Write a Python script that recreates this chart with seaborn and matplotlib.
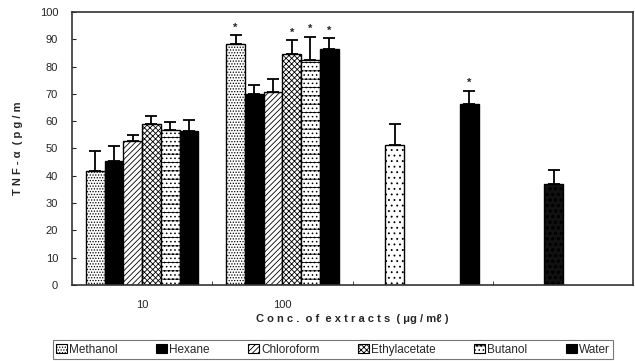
import matplotlib
matplotlib.use("Agg")
import matplotlib.pyplot as plt
from matplotlib.patches import Patch
import seaborn as sns
import pandas as pd
import numpy as np

# ---------------- data ----------------
solvents = ["Methanol", "Hexane", "Chloroform", "Ethylacetate", "Butanol", "Water"]
conc_labels = ["10", "100", "", " "]

vals_10 = [41.6, 45.5, 52.6, 59.1, 56.9, 56.5]
errs_10 = [7.4, 5.3, 2.5, 2.7, 2.7, 4.1]
star_10 = [False, False, False, False, False, False]

vals_100 = [88.4, 70.1, 70.7, 84.5, 82.4, 86.5]
errs_100 = [3.0, 3.0, 4.8, 5.1, 8.5, 3.8]
star_100 = [True, False, False, True, True, True]

# extra single bars (not in legend)
extra_conc = ["", "", " "]
extra_slot = ["Hexane", "Water", "Chloroform"]
extra_vals = [51.3, 66.2, 37.1]
extra_errs = [7.8, 5.0, 5.0]
extra_star = [False, True, False]
extra_style = ["lightdots", "black", "darkdots"]

# ---------------- table ----------------
rows = []
for s, v, e, st in zip(solvents, vals_10, errs_10, star_10):
    rows.append(dict(conc="10", solvent=s, value=v, err=e, star=st, style=s))
for s, v, e, st in zip(solvents, vals_100, errs_100, star_100):
    rows.append(dict(conc="100", solvent=s, value=v, err=e, star=st, style=s))
for c, s, v, e, st, sty in zip(extra_conc, extra_slot, extra_vals, extra_errs, extra_star, extra_style):
    rows.append(dict(conc=c, solvent=s, value=v, err=e, star=st, style=sty))
df = pd.DataFrame(rows)

styles = {
    "Methanol": dict(fc="white", hatch="......", hc="#777777"),
    "Hexane": dict(fc="black", hatch="", hc="black"),
    "Chloroform": dict(fc="white", hatch="//////", hc="black"),
    "Ethylacetate": dict(fc="white", hatch="xxxxxx", hc="black"),
    "Butanol": dict(fc="white", hatch="--....", hc="#555555"),
    "Water": dict(fc="black", hatch="", hc="black"),
    "lightdots": dict(fc="white", hatch="...", hc="#222222"),
    "black": dict(fc="black", hatch="", hc="black"),
    "darkdots": dict(fc="#111111", hatch="ooo", hc="white"),
}

plt.rcParams["hatch.linewidth"] = 0.6
sns.set_style("white")
plt.rcParams["font.family"] = ["Liberation Sans", "DejaVu Sans"]

fig = plt.figure(figsize=(6.35, 3.61), dpi=100)
ax = fig.add_axes([0.1134, 0.2105, 0.8836, 0.7563])

sns.barplot(data=df, x="conc", y="value", hue="solvent", order=conc_labels,
            hue_order=solvents, errorbar=None, width=0.8, dodge=True,
            ax=ax, legend=False, edgecolor="black", linewidth=1.0)

nh = len(solvents)
slot_w = 0.8 / nh
lookup = {(r.conc, r.solvent): r for r in df.itertuples()}
for p in list(ax.patches):
    h = p.get_height()
    if np.isnan(h) or h == 0:
        continue
    cx = p.get_x() + p.get_width() / 2
    ci = int(round(cx))
    si = int(round((cx - ci) / slot_w + (nh - 1) / 2))
    key = (conc_labels[ci], solvents[si])
    if key not in lookup:
        continue
    r = lookup[key]
    st = styles[r.style]
    p.set_facecolor(st["fc"])
    p.set_hatch(st["hatch"])
    if hasattr(p, "set_hatchcolor"):
        p.set_hatchcolor(st["hc"])
    p.set_edgecolor("black")
    ax.errorbar([cx], [r.value], yerr=[[0], [r.err]], fmt="none",
                ecolor="black", elinewidth=1.3, capsize=4, capthick=1.3)
    if r.star:
        ax.text(cx, r.value + r.err + 1.0, "*", ha="center", va="bottom",
                fontsize=8, fontweight="bold")

ax.set_ylim(0, 100)
ax.set_xlim(-0.5, len(conc_labels) - 0.5)
ax.set_yticks(np.arange(0, 101, 10))
ax.tick_params(axis="y", direction="in", length=3, labelsize=8, pad=10, left=True)
ax.set_xticks(range(len(conc_labels)))
ax.set_xticklabels(conc_labels, fontsize=8)
ax.tick_params(axis="x", length=0, pad=11)
ax.set_xticks(np.arange(0.5, len(conc_labels) - 0.5, 1.0), minor=True)
ax.tick_params(axis="x", which="minor", direction="in", length=3, bottom=True)

for sp in ax.spines.values():
    sp.set_visible(True)
    sp.set_color("#333333")
    sp.set_linewidth(1.2)

ax.set_xlabel("C o n c .  o f  e x t r a c t s  ( μg / mℓ )", fontsize=8,
              fontweight="bold", labelpad=3)
ax.set_ylabel("T N F - α  ( p g / m", fontsize=8, fontweight="bold", labelpad=12)

handles = []
for s in solvents:
    st = styles[s]
    hp = Patch(facecolor=st["fc"], edgecolor="black", hatch=st["hatch"], linewidth=0.8)
    handles.append(hp)
leg = fig.legend(handles, solvents, loc="lower left", bbox_to_anchor=(0.083, 0.005, 0.883, 0.055),
                 mode="expand", ncol=6, fontsize=8.5, frameon=True, fancybox=False,
                 handlelength=0.9, handleheight=0.9, handletextpad=0.2,
                 borderpad=0.3, columnspacing=1.0, borderaxespad=0)
leg.get_frame().set_edgecolor("#555555")
leg.get_frame().set_linewidth(0.8)

fig.savefig("out.png", dpi=100)
